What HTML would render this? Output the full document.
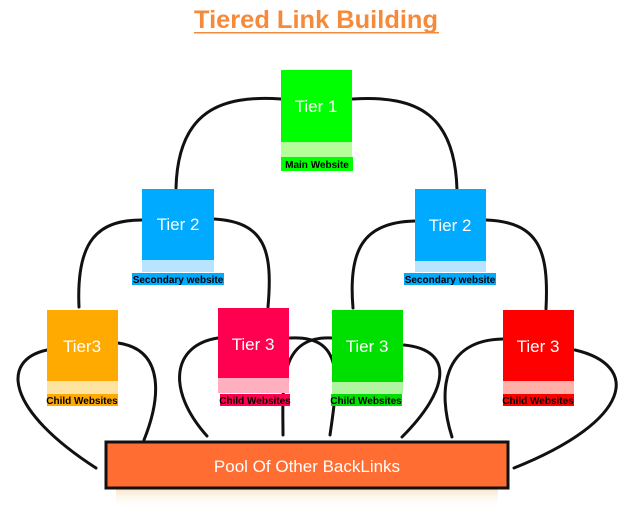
<!DOCTYPE html>
<html><head><meta charset="utf-8"><style>
body{margin:0;width:640px;height:509px;background:#fff;overflow:hidden;font-family:"Liberation Sans",sans-serif}
</style></head><body>
<svg width="640" height="509" viewBox="0 0 640 509" xmlns="http://www.w3.org/2000/svg" font-family="Liberation Sans, sans-serif">
<defs>
<linearGradient id="sh" x1="0" y1="0" x2="0" y2="1"><stop offset="0" stop-color="#f6d8b0" stop-opacity="0.7"/><stop offset="1" stop-color="#fff" stop-opacity="0"/></linearGradient>
</defs>
<text x="316" y="28" text-anchor="middle" font-size="25" font-weight="bold" fill="#f58a3a" textLength="244" lengthAdjust="spacingAndGlyphs">Tiered Link Building</text>
<rect x="194" y="32" width="245" height="1.5" fill="#f58a3a"/>
<g fill="none" stroke="#111" stroke-width="3" stroke-linecap="round">
<path d="M281,99 C222,95 178,110 176,188"/>
<path d="M353,99 C418,95 455,115 457,190"/>
<path d="M142,220 C98,220 76,240 79,307"/>
<path d="M214,219 C265,222 273,250 268,307"/>
<path d="M415,221 C363,222 348,250 353,308"/>
<path d="M486,220 C539,222 549,250 546,309"/>
<path d="M47,350 C0,360 6,410 96,468"/>
<path d="M118,343 C166,350 160,400 144,440"/>
<path d="M218,338 C172,345 166,390 207,436"/>
<path d="M290,338 C345,335 338,380 330,435"/>
<path d="M332,338 C277,335 283,390 283,435"/>
<path d="M404,345 C455,350 449,390 402,437"/>
<path d="M503,339 C443,340 437,390 452,437"/>
<path d="M575,350 C640,365 634,420 514,468"/>
</g>
<rect x="116" y="488" width="382" height="21" fill="url(#sh)"/>
<rect x="106" y="442" width="402" height="46" fill="#ff6d33" stroke="#111" stroke-width="3"/>
<text x="307" y="472" text-anchor="middle" font-size="17" fill="#fff">Pool Of Other BackLinks</text>
<g font-size="17" fill="#fff" text-anchor="middle">
<rect x="281" y="70" width="71" height="72" fill="#00ff00"/><rect x="281" y="142" width="71" height="15" fill="#b4ff9a"/>
<text x="316" y="112">Tier 1</text>
<rect x="142" y="189" width="72" height="71" fill="#00aaff"/><rect x="142" y="260" width="72" height="12" fill="#b8e4ff"/>
<text x="178" y="230">Tier 2</text>
<rect x="415" y="189" width="71" height="72" fill="#00aaff"/><rect x="415" y="261" width="71" height="11" fill="#b8e4ff"/>
<text x="450" y="231">Tier 2</text>
<rect x="47" y="310" width="71" height="71" fill="#ffaa00"/><rect x="47" y="381" width="71" height="13" fill="#ffe3a0"/>
<text x="82" y="352">Tier3</text>
<rect x="218" y="308" width="71" height="70" fill="#ff0050"/><rect x="218" y="378" width="71" height="15" fill="#ffb0c0"/>
<text x="253" y="350">Tier 3</text>
<rect x="332" y="310" width="71" height="72" fill="#00e000"/><rect x="332" y="382" width="71" height="12" fill="#b0f5a0"/>
<text x="367" y="352">Tier 3</text>
<rect x="503" y="310" width="71" height="71" fill="#ff0000"/><rect x="503" y="381" width="71" height="13" fill="#ffb0a8"/>
<text x="538" y="352">Tier 3</text>
</g>
<g font-size="10" font-weight="bold" fill="#000" text-anchor="middle">
<rect x="281" y="157" width="72" height="14" fill="#00ff00"/><text x="317" y="168">Main Website</text>
<rect x="132" y="273" width="92" height="12" fill="#00aaff"/><text x="178" y="283">Secondary website</text>
<rect x="404" y="273" width="92" height="12" fill="#00aaff"/><text x="450" y="283">Secondary website</text>
<rect x="47" y="394" width="71" height="12" fill="#ffaa00"/><text x="82" y="404">Child Websites</text>
<rect x="220" y="394" width="70" height="12" fill="#ff0050"/><text x="255" y="404">Child Websites</text>
<rect x="331" y="394" width="71" height="12" fill="#00e000"/><text x="366" y="404">Child Websites</text>
<rect x="503" y="394" width="71" height="12" fill="#ff0000"/><text x="538" y="404">Child Websites</text>
</g>
</svg>
</body></html>
